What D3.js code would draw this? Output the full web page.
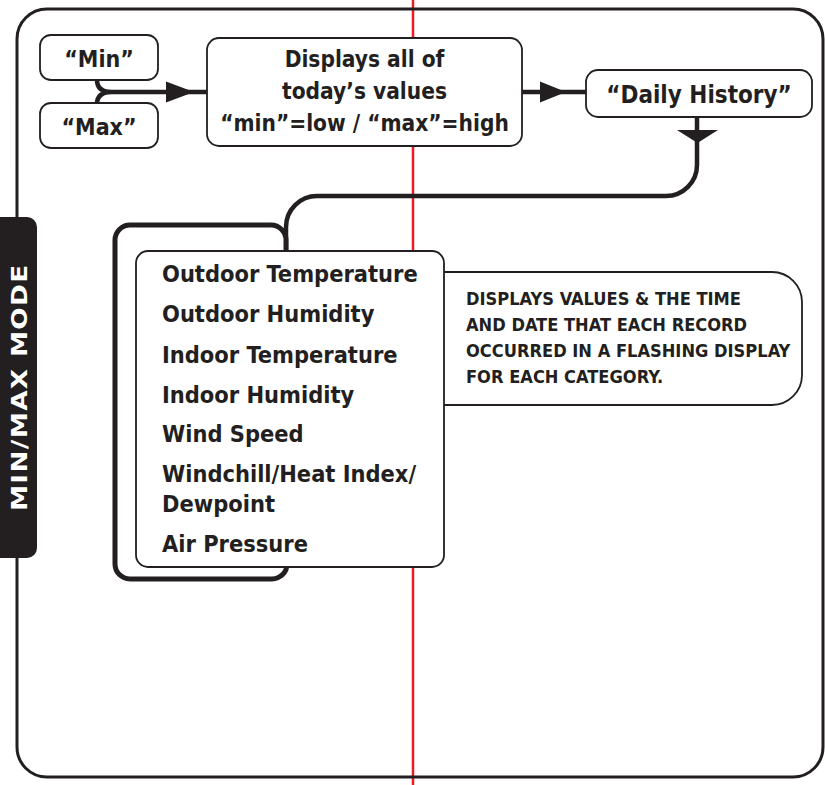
<!DOCTYPE html>
<html>
<head>
<meta charset="utf-8">
<script src="https://cdn.jsdelivr.net/npm/d3@7"></script>
<style>
  html, body { margin: 0; padding: 0; background: #fff; }
  svg { display: block; }
  text { font-family: "DejaVu Sans Condensed", "DejaVu Sans", sans-serif; font-stretch: condensed; font-weight: bold; fill: #231f20; }
</style>
</head>
<body>
<script>
// ---- content ----
const modeTitle = "MIN/MAX MODE";
const startButtons = ["“Min”", "“Max”"];
const displayLines = ["Displays all of", "today’s values", "“min”=low / “max”=high"];
const historyButton = "“Daily History”";
const categories = [
  ["Outdoor Temperature"],
  ["Outdoor Humidity"],
  ["Indoor Temperature"],
  ["Indoor Humidity"],
  ["Wind Speed"],
  ["Windchill/Heat Index/", "Dewpoint"],
  ["Air Pressure"]
];
const descriptionLines = [
  "DISPLAYS VALUES & THE TIME",
  "AND DATE THAT EACH RECORD",
  "OCCURRED IN A FLASHING DISPLAY",
  "FOR EACH CATEGORY."
];

const W = 825, H = 785;
const ink = "#231f20";
const svg = d3.select("body").append("svg").attr("width", W).attr("height", H);

// red guide line (behind everything)
svg.append("line").attr("x1", 413).attr("x2", 413).attr("y1", 0).attr("y2", H)
  .attr("stroke", "#ec1c24").attr("stroke-width", 2.5);

// outer frame
svg.append("rect").attr("x", 17).attr("y", 9).attr("width", 806).attr("height", 768)
  .attr("rx", 30).attr("ry", 30).attr("fill", "none").attr("stroke", ink).attr("stroke-width", 3);

// side tab
svg.append("rect").attr("x", -12).attr("y", 217).attr("width", 49).attr("height", 341)
  .attr("rx", 10).attr("fill", ink);
svg.append("text").attr("transform", "translate(27,388) rotate(-90) scale(1.25,1)")
  .attr("text-anchor", "middle").attr("font-size", 21)
  .style("font-stretch", "normal").style("font-family", "'DejaVu Sans', sans-serif")
  .attr("textLength", 197).attr("lengthAdjust", "spacing")
  .style("fill", "#fff").text(modeTitle);

const line = d3.line();
function arrowRight(xBase, xTip, y, half) {
  svg.append("path").attr("d", line([[xBase, y - half], [xTip, y], [xBase, y + half]]) + "Z").attr("fill", ink);
}

// connector Min/Max -> displays
const conn = d3.path();
conn.moveTo(97, 80); conn.quadraticCurveTo(97, 92, 112, 92);
conn.moveTo(97, 104); conn.quadraticCurveTo(97, 92, 112, 92);
conn.moveTo(110, 92); conn.lineTo(208, 92);
svg.append("path").attr("d", conn.toString()).attr("fill", "none").attr("stroke", ink).attr("stroke-width", 4.5);
arrowRight(166, 194, 92, 10.5);

// displays -> daily history
svg.append("line").attr("x1", 522).attr("x2", 587).attr("y1", 92).attr("y2", 92)
  .attr("stroke", ink).attr("stroke-width", 4.5);
arrowRight(540, 566, 92, 10.5);

// daily history -> list connector
const c2 = d3.path();
c2.moveTo(697, 117); c2.lineTo(697, 165);
c2.arcTo(697, 196, 666, 196, 31);
c2.lineTo(317, 196);
c2.arcTo(286, 196, 286, 227, 31);
c2.lineTo(286, 252);
svg.append("path").attr("d", c2.toString()).attr("fill", "none").attr("stroke", ink).attr("stroke-width", 4.5);
svg.append("path").attr("d", line([[677, 130], [718, 130], [697.5, 143]]) + "Z").attr("fill", ink);

// back frame (stack)
const bf = d3.path();
bf.moveTo(286, 252); bf.lineTo(286, 240);
bf.arcTo(286, 225, 271, 225, 15);
bf.lineTo(130, 225);
bf.arcTo(115, 225, 115, 240, 15);
bf.lineTo(115, 564);
bf.arcTo(115, 579, 130, 579, 15);
bf.lineTo(272, 579);
bf.arcTo(287, 579, 287, 564, 15);
bf.lineTo(287, 566);
svg.append("path").attr("d", bf.toString()).attr("fill", "#fff").attr("stroke", ink).attr("stroke-width", 5);

// description box
const db = d3.path();
db.moveTo(444, 272); db.lineTo(772, 272);
db.arcTo(802, 272, 802, 302, 30);
db.lineTo(802, 375);
db.arcTo(802, 405, 772, 405, 30);
db.lineTo(444, 405);
svg.append("path").attr("d", db.toString()).attr("fill", "#fff").attr("stroke", ink).attr("stroke-width", 1.8);

function box(x, y, w, h, r) {
  svg.append("rect").attr("x", x).attr("y", y).attr("width", w).attr("height", h)
    .attr("rx", r).attr("ry", r).attr("fill", "#fff").attr("stroke", ink).attr("stroke-width", 1.8);
}
// buttons
box(40, 35, 118, 45, 11);
box(40, 103, 118, 45, 11);
box(207, 38, 315, 108, 12);
box(586, 70, 226, 47, 12);
box(136, 251, 308, 316, 12);

// texts
svg.selectAll("text.btn").data(startButtons).join("text").attr("class", "btn")
  .attr("x", 99).attr("y", (d, i) => [67, 135][i]).attr("text-anchor", "middle")
  .attr("font-size", 23).text(d => d);

svg.selectAll("text.disp").data(displayLines).join("text").attr("class", "disp")
  .attr("x", 364.5).attr("y", (d, i) => 66.5 + i * 32).attr("text-anchor", "middle")
  .attr("font-size", 22.5).text(d => d);

svg.append("text").attr("x", 699).attr("y", 103).attr("text-anchor", "middle")
  .attr("font-size", 24).text(historyButton);

// list
const listY = [282, 322, 362.5, 402.5, 442, 481.5, 551.5];
const g = svg.append("g");
categories.forEach((lines, i) => {
  lines.forEach((t, j) => {
    g.append("text").attr("x", 162).attr("y", listY[i] + j * 30).attr("font-size", 23.4).text(t);
  });
});

svg.selectAll("text.desc").data(descriptionLines).join("text").attr("class", "desc")
  .attr("x", 466).attr("y", (d, i) => 305 + i * 26).attr("font-size", 18.1).text(d => d);
</script>
</body>
</html>
